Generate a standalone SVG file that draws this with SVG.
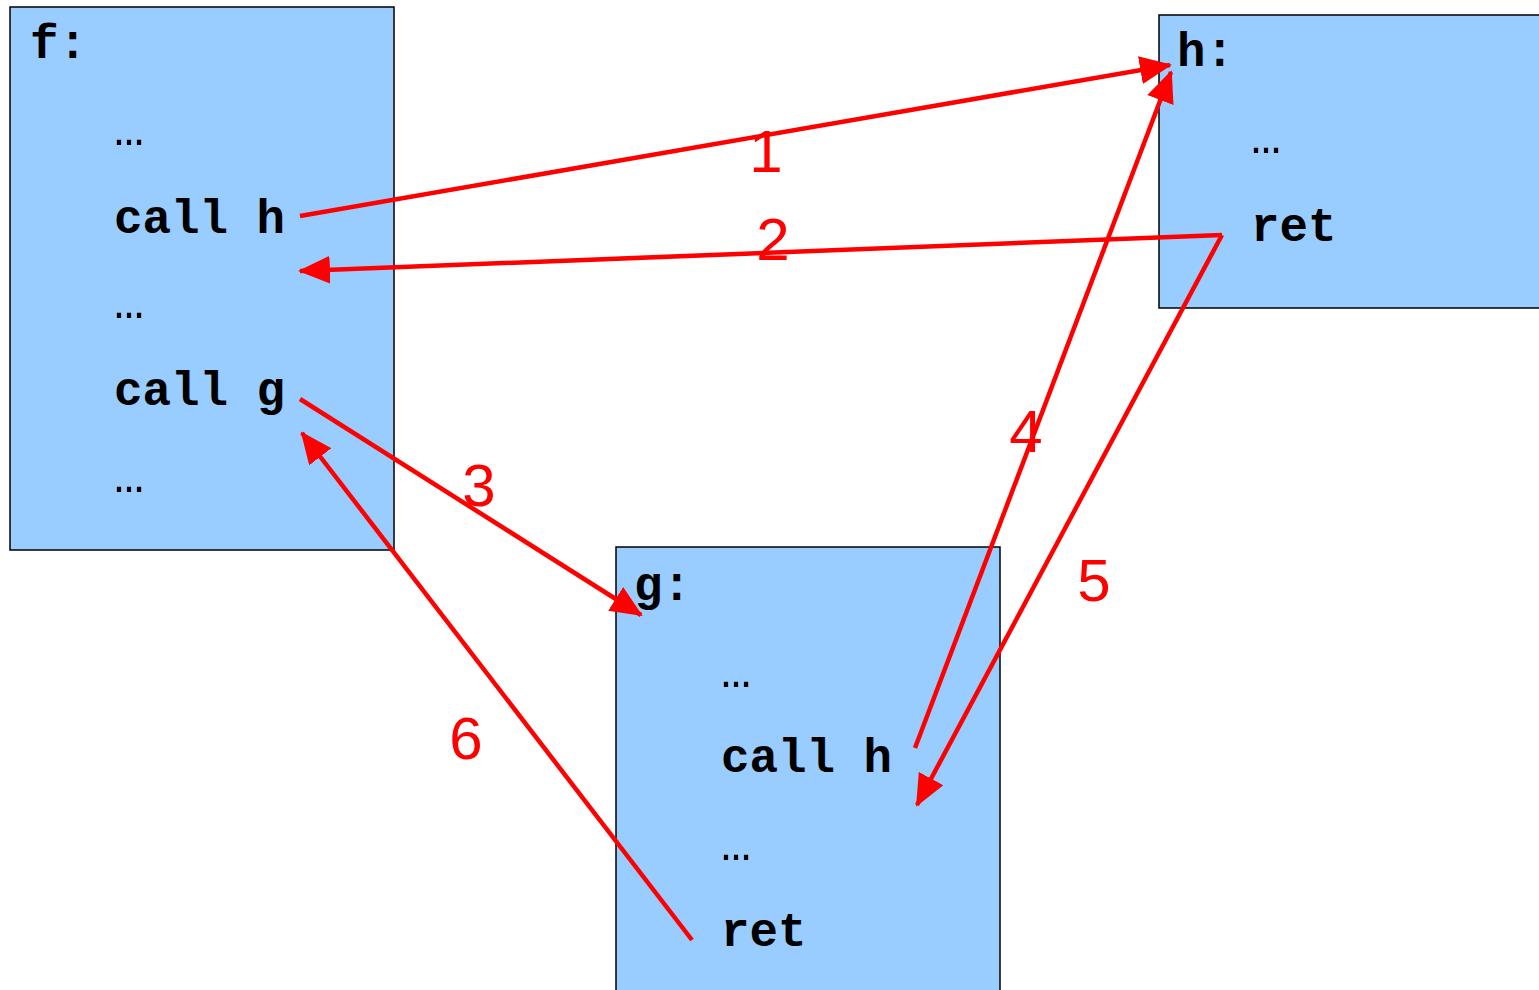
<svg xmlns="http://www.w3.org/2000/svg" width="1539" height="990" viewBox="0 0 1539 990">
<style>
.box{fill:#99CCFF;stroke:#000;stroke-width:1.5}
.code{font-family:"Liberation Mono","Courier New",monospace;font-weight:bold;font-size:47.5px;fill:#000}
.dots{font-family:"Liberation Mono","Courier New",monospace;font-size:50px;fill:#000}
.lbl{font-family:"Liberation Sans",Arial,sans-serif;font-size:60px;fill:#FF0000;text-anchor:middle}
.conn{stroke:#FF0000;stroke-width:4.5;fill:none}
</style>
<defs>
<marker id="ah" markerUnits="userSpaceOnUse" markerWidth="32" markerHeight="28" refX="30" refY="14" orient="auto">
<path d="M0,0 L32,14 L0,28 Z" fill="#FF0000"/>
</marker>
</defs>
<rect width="1539" height="990" fill="#fff"/>
<g id="node-f">
<rect class="box" x="10" y="7" width="384" height="543"/>
<text class="code" x="30" y="58">f:</text>
<text class="dots" x="114" y="145">…</text>
<text class="code" x="114" y="233">call h</text>
<text class="dots" x="114" y="318">…</text>
<text class="code" x="114" y="405">call g</text>
<text class="dots" x="114" y="492">…</text>
</g>
<g id="node-h">
<rect class="box" x="1159" y="15" width="390" height="293"/>
<text class="code" x="1177" y="66">h:</text>
<text class="dots" x="1251" y="153">…</text>
<text class="code" x="1251" y="241">ret</text>
</g>
<g id="node-g">
<rect class="box" x="616" y="547" width="384" height="453"/>
<text class="code" x="634" y="600">g:</text>
<text class="dots" x="721" y="687">…</text>
<text class="code" x="721" y="772">call h</text>
<text class="dots" x="721" y="860">…</text>
<text class="code" x="721" y="946">ret</text>
</g>
<g id="connectors">
<line class="conn" x1="300" y1="216" x2="1170" y2="65" marker-end="url(#ah)"/>
<line class="conn" x1="1222" y1="235" x2="300" y2="271" marker-end="url(#ah)"/>
<line class="conn" x1="300" y1="399" x2="641" y2="615" marker-end="url(#ah)"/>
<line class="conn" x1="915" y1="748" x2="1171" y2="72" marker-end="url(#ah)"/>
<line class="conn" x1="1222" y1="235" x2="917" y2="805" marker-end="url(#ah)"/>
<line class="conn" x1="692" y1="940" x2="302" y2="433" marker-end="url(#ah)"/>
</g>
<g id="labels">
<text class="lbl" x="766" y="172">1</text>
<text class="lbl" x="773" y="260">2</text>
<text class="lbl" x="479" y="506">3</text>
<text class="lbl" x="1026" y="452">4</text>
<text class="lbl" x="1094" y="601">5</text>
<text class="lbl" x="466" y="759">6</text>
</g>
</svg>
